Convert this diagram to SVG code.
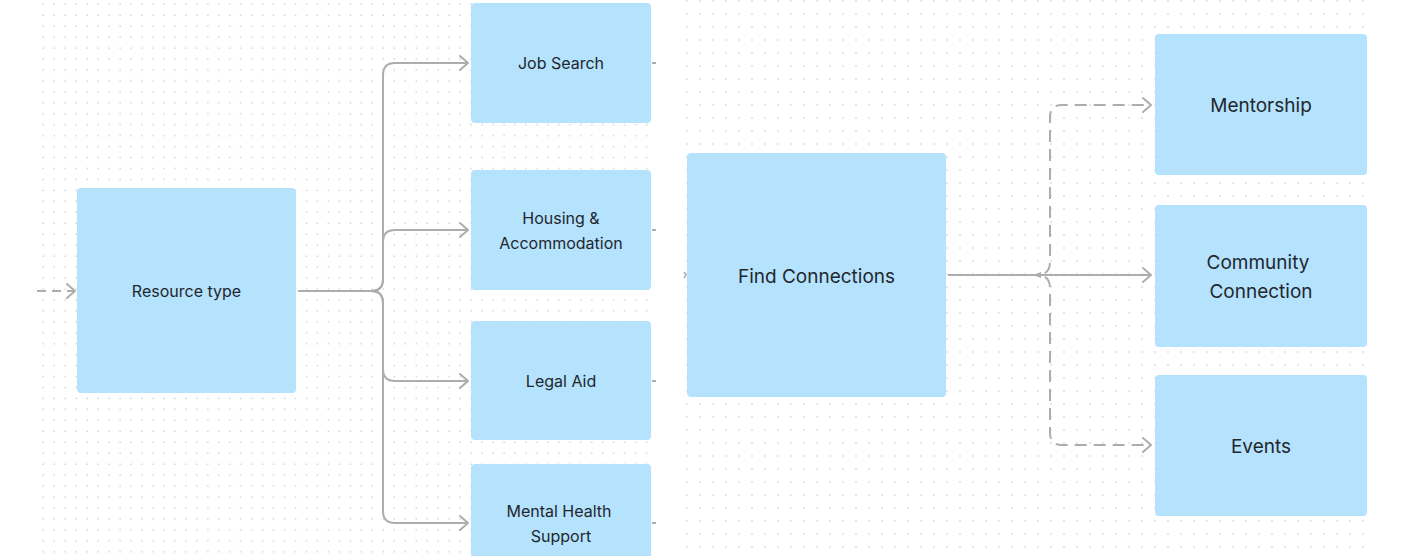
<svg xmlns="http://www.w3.org/2000/svg" width="1407" height="556" viewBox="0 0 1407 556">
  <style>
    .node { fill: #b5e2fd; }
    .lbl { font-family: Inter, "Liberation Sans", sans-serif; fill: #22272e; text-anchor: middle; dominant-baseline: central; }
    .s { font-size: 16px; }
    .l { font-size: 19px; }
    .conn { fill: none; stroke: #adadad; stroke-width: 2; }
    .dash { stroke-dasharray: 9 6; }
    .dash2 { stroke-dasharray: 12 7; }
  </style>
  <defs>
    <pattern id="gridL" patternUnits="userSpaceOnUse" x="38" y="-1" width="10.97" height="10.95">
      <rect x="4.6" y="4.6" width="1.4" height="1.4" fill="#cbcbcb"/>
    </pattern>
    <pattern id="gridR" patternUnits="userSpaceOnUse" x="681" y="-5" width="13" height="13">
      <rect x="5.3" y="5.3" width="1.4" height="1.4" fill="#cbcbcb"/>
    </pattern>
    <marker id="arr" viewBox="-11 -9 13 18" refX="0" refY="0" markerWidth="13" markerHeight="18" markerUnits="userSpaceOnUse" orient="auto">
      <path d="M-8,-7 L0,0 L-8,7" fill="none" stroke="#adadad" stroke-width="2" stroke-linecap="round" stroke-linejoin="round"/>
    </marker>
  </defs>
  <rect width="1407" height="556" fill="#ffffff"/>
  <rect x="38" y="0" width="614" height="556" fill="url(#gridL)"/>
  <rect x="681" y="0" width="687" height="556" fill="url(#gridR)"/>

  <g id="connectors">
    <path class="conn dash" d="M37,291 H75" marker-end="url(#arr)"/>
    <path class="conn" d="M298,291 H371 Q383,291 383,279 V75 Q383,63 395,63 H468" marker-end="url(#arr)"/>
    <path class="conn" d="M371,291 Q383,291 383,279 V242 Q383,230 395,230 H468" marker-end="url(#arr)"/>
    <path class="conn" d="M371,291 Q383,291 383,303 V369 Q383,381 395,381 H468" marker-end="url(#arr)"/>
    <path class="conn" d="M371,291 Q383,291 383,303 V511 Q383,523 395,523 H468" marker-end="url(#arr)"/>
    <path class="conn" d="M652,63 H656 M652,230 H656 M652,381 H656 M652,523 H656" stroke-width="1.5"/>
    <path d="M684,272 L686,275 L684,278" fill="none" stroke="#adadad" stroke-width="1.5"/>
    <path class="conn" d="M948,275 H1151" marker-end="url(#arr)"/>
    <path d="M1041,272 L1033,275 L1041,278 Z" fill="#adadad"/>
    <path class="conn dash2" d="M1037,275 Q1050,275 1050,262 V117 Q1050,105 1062,105 H1151" marker-end="url(#arr)" stroke-dashoffset="-8"/>
    <path class="conn dash2" d="M1037,275 Q1050,275 1050,288 V433 Q1050,445 1062,445 H1151" marker-end="url(#arr)" stroke-dashoffset="-8"/>
  </g>

  <g id="resource-type">
    <rect class="node" x="77" y="188" width="219" height="205" rx="4"/>
    <text class="lbl s" x="186.5" y="291">Resource type</text>
  </g>
  <g id="job-search">
    <rect class="node" x="471" y="3" width="180" height="120" rx="4"/>
    <text class="lbl s" x="561" y="63">Job Search</text>
  </g>
  <g id="housing">
    <rect class="node" x="471" y="170" width="180" height="120" rx="4"/>
    <text class="lbl s" x="561" y="218">Housing &amp;</text>
    <text class="lbl s" x="561" y="243">Accommodation</text>
  </g>
  <g id="legal-aid">
    <rect class="node" x="471" y="321" width="180" height="119" rx="4"/>
    <text class="lbl s" x="561" y="381">Legal Aid</text>
  </g>
  <g id="mental-health">
    <rect class="node" x="471" y="464" width="180" height="100" rx="4"/>
    <text class="lbl s" x="559" y="511">Mental Health</text>
    <text class="lbl s" x="561" y="536">Support</text>
  </g>
  <g id="find-connections">
    <rect class="node" x="687" y="153" width="259" height="244" rx="4"/>
    <text class="lbl l" x="816.5" y="276">Find Connections</text>
  </g>
  <g id="mentorship">
    <rect class="node" x="1155" y="34" width="212" height="141" rx="4"/>
    <text class="lbl l" x="1261" y="105">Mentorship</text>
  </g>
  <g id="community-connection">
    <rect class="node" x="1155" y="205" width="212" height="142" rx="4"/>
    <text class="lbl l" x="1258" y="262">Community</text>
    <text class="lbl l" x="1261" y="291">Connection</text>
  </g>
  <g id="events">
    <rect class="node" x="1155" y="375" width="212" height="141" rx="4"/>
    <text class="lbl l" x="1261" y="446">Events</text>
  </g>
</svg>
